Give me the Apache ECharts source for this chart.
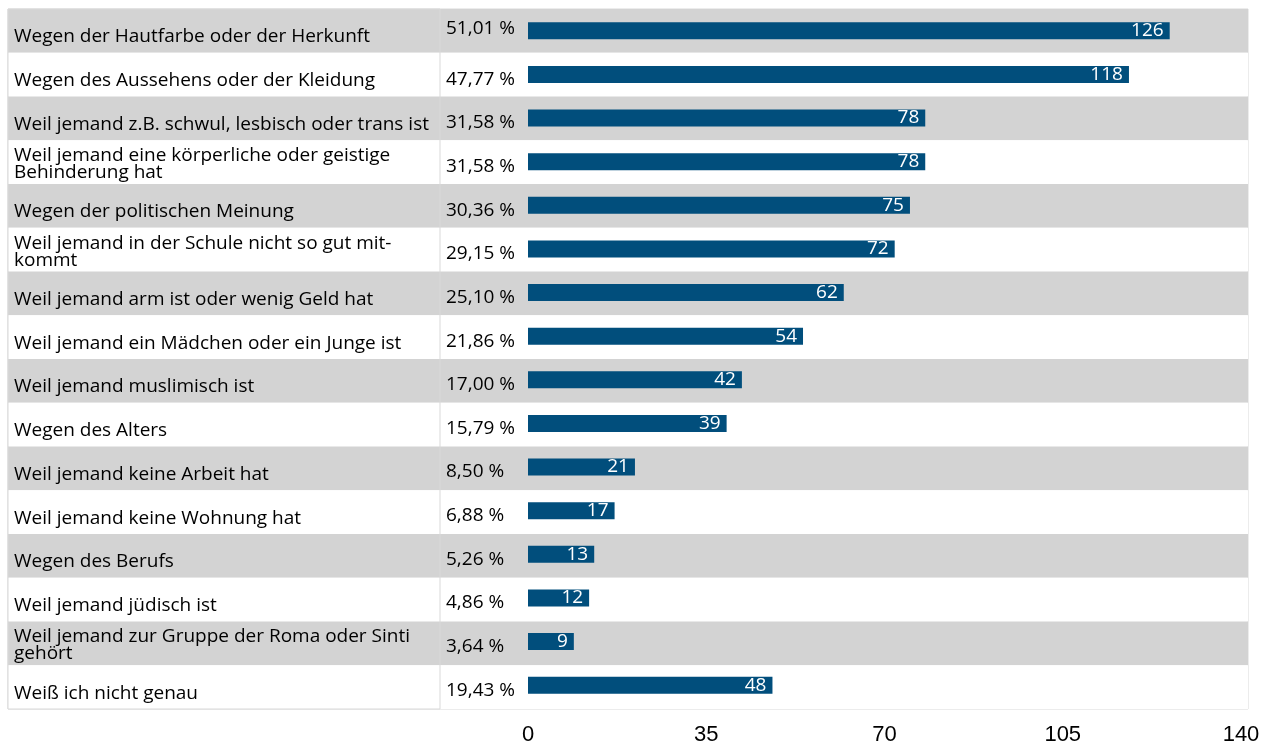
<!DOCTYPE html>
<html>
<head>
<meta charset="utf-8">
<script src="https://cdn.jsdelivr.net/npm/echarts@6/dist/echarts.min.js"></script>
<style>html,body{margin:0;padding:0;background:#fff;}#c{width:1270px;height:746px;}</style>
</head>
<body>
<div id="c"></div>
<script>
const categories = [
  "Wegen der Hautfarbe oder der Herkunft",
  "Wegen des Aussehens oder der Kleidung",
  "Weil jemand z.B. schwul, lesbisch oder trans ist",
  "Weil jemand eine körperliche oder geistige\nBehinderung hat",
  "Wegen der politischen Meinung",
  "Weil jemand in der Schule nicht so gut mit-\nkommt",
  "Weil jemand arm ist oder wenig Geld hat",
  "Weil jemand ein Mädchen oder ein Junge ist",
  "Weil jemand muslimisch ist",
  "Wegen des Alters",
  "Weil jemand keine Arbeit hat",
  "Weil jemand keine Wohnung hat",
  "Wegen des Berufs",
  "Weil jemand jüdisch ist",
  "Weil jemand zur Gruppe der Roma oder Sinti\ngehört",
  "Weiß ich nicht genau"
];
const percentages = ["51,01 %","47,77 %","31,58 %","31,58 %","30,36 %","29,15 %","25,10 %","21,86 %","17,00 %","15,79 %","8,50 %","6,88 %","5,26 %","4,86 %","3,64 %","19,43 %"];
const counts = [126,118,78,78,75,72,62,54,42,39,21,17,13,12,9,48];
const xTicks = [0,35,70,105,140];

const chart = echarts.init(document.getElementById('c'));
const textFont = 'Open Sans';
const fs = 19;
function catFormatter(v) {
  const lines = v.split('\n');
  if (lines.length === 1) return '{s|' + v + '}';
  return '{f|' + lines[0] + '}\n' + lines.slice(1).map(function (l) { return '{t|' + l + '}'; }).join('\n');
}
chart.setOption({
  animation: false,
  backgroundColor: '#ffffff',
  grid: [
    {left: 8, top: 9, width: 1240, height: 700, show: true, borderColor: '#d9d9d9', borderWidth: 1, backgroundColor: 'transparent'},
    {left: 528, top: 9, width: 713, height: 700},
    {left: 8, top: 9, width: 432, height: 700, show: true, borderColor: '#d9d9d9', borderWidth: 1, backgroundColor: 'transparent', z: 3}
  ],
  xAxis: [
    {gridIndex: 0, type: 'value', show: false, min: 0, max: 1},
    {gridIndex: 1, type: 'value', min: xTicks[0], max: xTicks[xTicks.length-1], interval: 35,
     axisLine: {show: false}, axisTick: {show: false}, splitLine: {show: false},
     axisLabel: {fontFamily: 'Liberation Sans', fontSize: 22, color: '#000', margin: 17}},
    {gridIndex: 2, type: 'value', show: false, min: 0, max: 1}
  ],
  yAxis: [
    {gridIndex: 0, type: 'category', inverse: true, data: categories,
     axisLine: {show: false}, axisTick: {show: false}, splitLine: {show: false},
     splitArea: {show: true, areaStyle: {color: ['#d3d3d3', '#ffffff']}},
     axisLabel: {inside: true, margin: 6, fontFamily: textFont, fontSize: fs, color: '#000', align: 'left',
       formatter: catFormatter,
       rich: {s: {fontFamily: textFont, fontSize: fs, lineHeight: 19, color: '#000', padding: [12, 0, 0, 0]},
              f: {fontFamily: textFont, fontSize: fs, lineHeight: 19, color: '#000', padding: [6, 0, 0, 0]},
              t: {fontFamily: textFont, fontSize: fs, lineHeight: 19, color: '#000', padding: [2, 0, 0, 0]}}}},
    {gridIndex: 1, type: 'category', inverse: true, data: percentages,
     axisLine: {show: false}, axisTick: {show: false}, splitLine: {show: false},
     axisLabel: {margin: 82, align: 'left', fontFamily: textFont, fontSize: fs, color: '#000',
       formatter: function (v, i) { return i === 0 ? '{up|' + v + '}' : '{n|' + v + '}'; },
       rich: {up: {fontFamily: textFont, fontSize: fs, color: '#000', padding: [0, 0, 4, 0]},
              n: {fontFamily: textFont, fontSize: fs, color: '#000', padding: [10, 0, 0, 0]}}}},
    {gridIndex: 2, type: 'category', show: false, data: categories}
  ],
  series: [{
    type: 'bar', xAxisIndex: 1, yAxisIndex: 1, data: counts, barWidth: 17,
    itemStyle: {color: '#014e7c'},
    label: {show: true, position: 'insideRight', color: '#fff', fontFamily: textFont, fontSize: 19, distance: 6}
  }]
});
</script>
</body>
</html>
